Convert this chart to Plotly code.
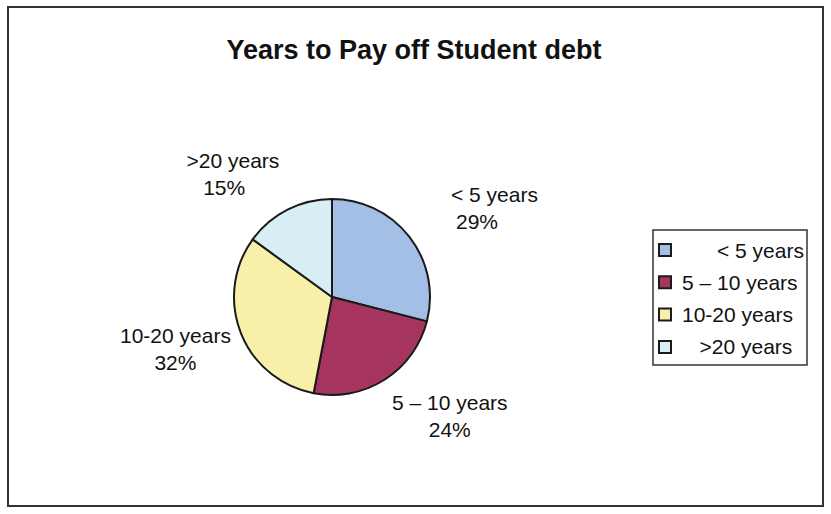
import plotly.graph_objects as go

# Data
categories = ["\u00a0\u00a0\u00a0\u00a0\u00a0\u00a0< 5 years", "5 \u2013 10 years", "10-20 years", "\u00a0\u00a0\u00a0>20 years"]
shares = [29, 24, 32, 15]
colors = ["#A4BFE6", "#A5345F", "#F8EFA9", "#D7EEF5"]

W, H = 831, 514
FONT = "Arial, 'Liberation Sans', sans-serif"


def px(x):
    return x / W


def py(y):
    return 1 - y / H


fig = go.Figure()

# Pie centred at (332, 297) px with radius 98 px
cx, cy, r = 332, 297, 98
fig.add_trace(go.Pie(
    labels=categories,
    values=shares,
    sort=False,
    direction="clockwise",
    rotation=0,
    marker=dict(colors=colors, line=dict(color="#1a1a1a", width=2)),
    textinfo="none",
    hoverinfo="label+percent",
    showlegend=False,
    domain=dict(x=[px(cx - r), px(cx + r)], y=[py(cy + r), py(cy - r)]),
))

# Data label positions (block centres, px)
label_pos = [(477, 208), (450, 416), (175, 349), (224, 174)]

annotations = []
for name, val, (lx, ly) in zip(categories, shares, label_pos):
    annotations.append(dict(
        x=px(lx), y=py(ly), xref="paper", yref="paper",
        text=f"{name}<br>{val}%", showarrow=False, align="center",
        xanchor="center", yanchor="middle",
        font=dict(family=FONT, size=21, color="#111111"),
    ))

# Legend drawn by hand: box, swatches and names
shapes = [
    # outer chart frame
    dict(type="rect", xref="paper", yref="paper",
         x0=px(8), x1=px(823), y0=py(506), y1=py(7),
         line=dict(color="#333333", width=2), fillcolor="rgba(0,0,0,0)"),
    # legend box
    dict(type="rect", xref="paper", yref="paper",
         x0=px(653), x1=px(807), y0=py(365), y1=py(230),
         line=dict(color="#333333", width=1.5), fillcolor="white"),
]

leg_top, leg_step = 250, 32.3
for i, (name, col) in enumerate(zip(categories, colors)):
    yc = leg_top + i * leg_step
    shapes.append(dict(
        type="rect", xref="paper", yref="paper",
        x0=px(659), x1=px(671), y0=py(yc + 6), y1=py(yc - 6),
        line=dict(color="#1a1a1a", width=2), fillcolor=col,
    ))
    annotations.append(dict(
        x=px(680), y=py(yc), xref="paper", yref="paper",
        text=name, showarrow=False, xanchor="left", yanchor="middle",
        font=dict(family=FONT, size=21, color="#111111"),
    ))

fig.update_layout(
    width=W, height=H,
    margin=dict(l=0, r=0, t=0, b=0),
    paper_bgcolor="white",
    plot_bgcolor="white",
    title=dict(
        text="Years to Pay off Student debt",
        x=px(414), y=py(50), xanchor="center", yanchor="middle",
        xref="paper", yref="paper",
        font=dict(family=FONT, size=27, color="#111111", weight="bold"),
    ),
    shapes=shapes,
    annotations=annotations,
)

fig.write_html("out.html")
